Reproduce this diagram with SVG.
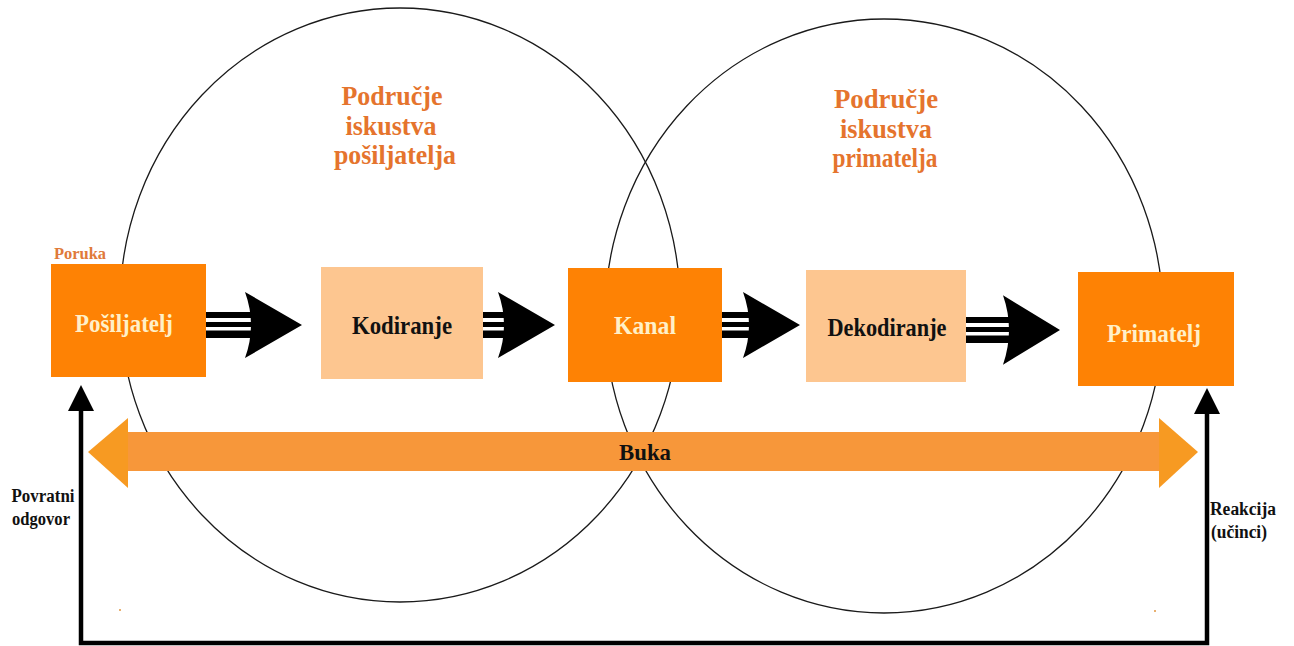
<svg xmlns="http://www.w3.org/2000/svg" width="1294" height="646" viewBox="0 0 1294 646">
<style>
.ring{fill:none;stroke:#1a1a1a;stroke-width:1.3}
.dark{fill:#FE8204}
.light{fill:#FDC690}
.t{font-family:"Liberation Serif","Times New Roman",serif;font-weight:bold;text-anchor:middle}
.box{font-size:25px;fill:#FFF0C8}
.boxd{font-size:25px;fill:#111}
.head{font-size:27px;fill:#E5742D}
.side{font-size:18px;fill:#111}
.fb{fill:none;stroke:#000;stroke-width:4.5}
</style>
<defs>
<g id="ahead"><path d="M0,-33 L57,0 L0,33 Q12,0 0,-33Z" fill="#000"/></g>
<marker id="up" markerUnits="userSpaceOnUse" markerWidth="26" markerHeight="28" viewBox="0 0 26 28" refX="2" refY="13" orient="auto-start-reverse">
<path d="M0,0 L26,13 L0,26 Z" fill="#000"/>
</marker>
</defs>
<rect width="1294" height="646" fill="#fff"/>
<g id="circles">
<ellipse class="ring" cx="400" cy="305" rx="280" ry="297"/>
<ellipse class="ring" cx="884" cy="316" rx="279" ry="297"/>
</g>
<g id="label-sender-field">
<text class="t head" x="392" y="105" textLength="101" lengthAdjust="spacingAndGlyphs">Područje</text>
<text class="t head" x="391" y="135" textLength="91" lengthAdjust="spacingAndGlyphs">iskustva</text>
<text class="t head" x="395" y="164" textLength="122" lengthAdjust="spacingAndGlyphs">pošiljatelja</text>
</g>
<g id="label-receiver-field">
<text class="t head" x="886" y="108" textLength="104" lengthAdjust="spacingAndGlyphs">Područje</text>
<text class="t head" x="886" y="138" textLength="92" lengthAdjust="spacingAndGlyphs">iskustva</text>
<text class="t head" x="885" y="167" textLength="105" lengthAdjust="spacingAndGlyphs">primatelja</text>
</g>
<g id="buka">
<rect x="120" y="432" width="1045" height="39" fill="#F7973A"/>
<polygon points="88,452 128,418 128,488" fill="#F79A22"/>
<polygon points="1198,452 1159,418 1159,488" fill="#F79A22"/>
<text class="t" x="645" y="460" font-size="24" fill="#111" textLength="52" lengthAdjust="spacingAndGlyphs">Buka</text>
</g>
<g id="connectors">
<g id="a1">
<rect x="206" y="312" width="50" height="26" fill="#000"/>
<rect x="206" y="318" width="45" height="4" fill="#fff"/>
<rect x="206" y="327" width="45" height="3.5" fill="#fff"/>
<use href="#ahead" x="245" y="325"/>
</g>
<g id="a2">
<rect x="483" y="312" width="26" height="26" fill="#000"/>
<rect x="483" y="318" width="22" height="4" fill="#fff"/>
<rect x="483" y="327" width="22" height="3.5" fill="#fff"/>
<use href="#ahead" x="498" y="325"/>
</g>
<g id="a3">
<rect x="722" y="312" width="32" height="26" fill="#000"/>
<rect x="722" y="318" width="28" height="4" fill="#fff"/>
<rect x="722" y="327" width="28" height="3.5" fill="#fff"/>
<use href="#ahead" x="743" y="325"/>
</g>
<g id="a4">
<rect x="966" y="317" width="48" height="26" fill="#000"/>
<rect x="966" y="323" width="44" height="4" fill="#fff"/>
<rect x="966" y="332" width="44" height="3.5" fill="#fff"/>
<use href="#ahead" x="1003" y="330" transform="translate(1003 330) scale(1 1.05) translate(-1003 -330)"/>
</g>
<path id="feedback" class="fb" d="M1207,412 V643 H81 V409" marker-start="url(#up)" marker-end="url(#up)"/>
</g>
<g id="posiljatelj">
<rect class="dark" x="51" y="264" width="155" height="113"/>
<text class="t box" x="124" y="332" textLength="98" lengthAdjust="spacingAndGlyphs">Pošiljatelj</text>
<text class="t" x="80" y="259" font-size="16" fill="#E07A3A" textLength="52" lengthAdjust="spacingAndGlyphs">Poruka</text>
</g>
<g id="kodiranje">
<rect class="light" x="321" y="267" width="162" height="112"/>
<text class="t boxd" x="402" y="334" textLength="100" lengthAdjust="spacingAndGlyphs">Kodiranje</text>
</g>
<g id="kanal">
<rect class="dark" x="568" y="268" width="154" height="114"/>
<text class="t box" x="645" y="334" textLength="62" lengthAdjust="spacingAndGlyphs">Kanal</text>
</g>
<g id="dekodiranje">
<rect class="light" x="806" y="270" width="160" height="112"/>
<text class="t boxd" x="887" y="336" textLength="119" lengthAdjust="spacingAndGlyphs">Dekodiranje</text>
</g>
<g id="primatelj">
<rect class="dark" x="1078" y="272" width="156" height="114"/>
<text class="t box" x="1154" y="342" textLength="94" lengthAdjust="spacingAndGlyphs">Primatelj</text>
</g>
<g id="label-feedback">
<text class="t side" x="43" y="502" textLength="63" lengthAdjust="spacingAndGlyphs">Povratni</text>
<text class="t side" x="41" y="525" textLength="58" lengthAdjust="spacingAndGlyphs">odgovor</text>
</g>
<g id="label-reaction">
<text class="t side" x="1243" y="515" textLength="66" lengthAdjust="spacingAndGlyphs">Reakcija</text>
<text class="t side" x="1239" y="538" textLength="56" lengthAdjust="spacingAndGlyphs">(učinci)</text>
</g>
<g id="specks" fill="#E8B070">
<rect x="119" y="609" width="2" height="2"/>
<rect x="1154" y="610" width="2" height="2"/>
</g>
</svg>
